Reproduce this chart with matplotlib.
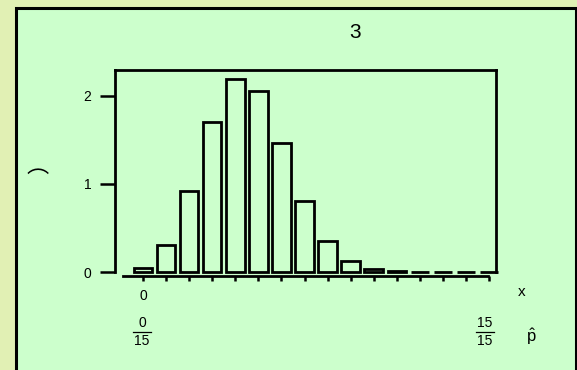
import matplotlib
matplotlib.use("Agg")
import matplotlib.pyplot as plt
from matplotlib.patches import Rectangle
from matplotlib.lines import Line2D

# data
x_values = list(range(16))
densities = [0.05, 0.31, 0.92, 1.70, 2.19, 2.06, 1.47, 0.81, 0.35, 0.12,
             0.03, 0.006, 0.002, 0.0, 0.0, 0.0]
y_ticks = [0, 1, 2]
y_ticklabels = ["0", "1", "2"]
title_text = "3"

W, H = 577, 370
plt.rcParams['font.family'] = ['Liberation Sans', 'DejaVu Sans']
plt.rcParams['mathtext.fontset'] = 'custom'
plt.rcParams['mathtext.rm'] = 'Liberation Sans'
plt.rcParams['mathtext.it'] = 'Liberation Sans'

fig = plt.figure(figsize=(W / 100, H / 100), dpi=100)
fig.patch.set_facecolor('#e1f0b4')


def fx(px):
    return px / W


def fy(py):
    return 1 - py / H


# outer panel
panel = Rectangle((fx(16), fy(372)), fx(576) - fx(16), fy(8) - fy(372),
                  transform=fig.transFigure, facecolor='#ccffcc',
                  edgecolor='black', linewidth=2.2, zorder=-5)
fig.patches.append(panel)

# axes: left 115, right 496, top 70, bottom 272 (y=0)
ax = fig.add_axes([fx(115), fy(272), fx(496) - fx(115), fy(70) - fy(272)])
ax.set_zorder(2)
ax.set_facecolor('none')
ax.set_xlim(-1.214, 15.30)
ax.set_ylim(0, 2.295)

ax.bar(x_values, densities, width=0.8, facecolor='#ccffcc',
       edgecolor='black', linewidth=2.0, clip_on=False, zorder=3)

for s in ['left', 'top', 'right']:
    ax.spines[s].set_linewidth(2.0)
ax.spines['bottom'].set_position(('outward', 3))
ax.spines['bottom'].set_bounds(-0.85, 14.95)
ax.spines['bottom'].set_linewidth(2.0)

ax.set_yticks(y_ticks)
ax.set_yticklabels(y_ticklabels)
ax.tick_params(axis='y', direction='out', length=11, width=1.8, pad=6,
               labelsize=10)
ax.set_xticks(x_values)
ax.set_xticklabels(["0"] + [""] * 15)
ax.tick_params(axis='x', direction='out', length=3.5, width=1.8, pad=6,
               labelsize=10)

# title
fig.text(fx(355), fy(32), title_text, fontsize=15, ha='center', va='center')
# y label arc
fig.text(fx(38), fy(180), "⌒", fontsize=16, ha='center', va='center',
         family=['Noto Sans CJK JP', 'DejaVu Sans'])
# x label
fig.text(fx(522), fy(292), "x", fontsize=11, ha='center', va='center')

# fractions
for cx, num in [(142, "0"), (485, "15")]:
    fig.text(fx(cx), fy(323), num, fontsize=10, ha='center', va='center')
    fig.text(fx(cx), fy(341), "15", fontsize=10, ha='center', va='center')
    fig.add_artist(Line2D([fx(cx - 9), fx(cx + 9)], [fy(331.5), fy(331.5)],
                          transform=fig.transFigure, color='black',
                          linewidth=0.9))

# p-hat
fig.text(fx(531), fy(337), r"$\hat{\mathrm{p}}$", fontsize=12,
         ha='center', va='center')

fig.savefig("out.png", dpi=100, facecolor=fig.get_facecolor())
